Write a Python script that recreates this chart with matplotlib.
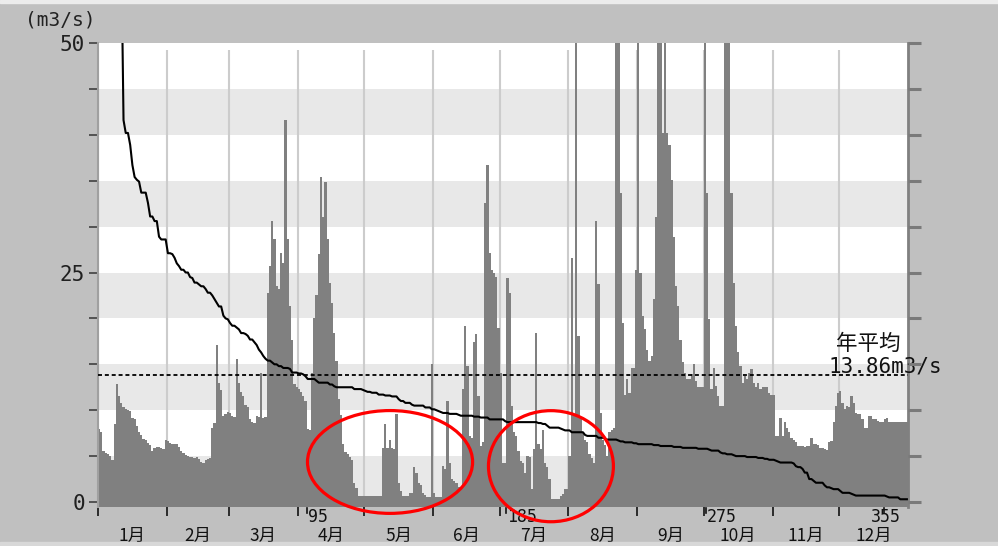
import numpy as np
import matplotlib.pyplot as plt
from matplotlib.patches import Ellipse, Rectangle
from matplotlib.ticker import MultipleLocator, FuncFormatter

plt.rcParams['font.family'] = ['Noto Sans CJK JP', 'DejaVu Sans']

# daily discharge (m3/s)
jan = [7.9, 7.6, 5.6, 5.3, 5.2, 5.0, 4.6, 8.5, 12.8, 11.5, 10.8, 10.3, 10.1, 10.0, 9.9, 9.2,
       9.0, 8.3, 7.6, 7.3, 6.9, 6.8, 6.4, 6.2, 5.6, 5.9, 6.0, 6.0, 5.9, 5.8, 6.8]
feb = [6.6, 6.4, 6.3, 6.3, 6.3, 6.0, 5.6, 5.3, 5.1, 5.0, 4.9, 4.9, 4.8, 4.9, 4.7, 4.4,
       4.2, 4.6, 4.7, 4.8, 8.1, 8.6, 17.1, 13.0, 12.2, 9.4, 9.6, 9.8]
mar = [9.7, 9.4, 9.3, 15.6, 13.0, 12.0, 11.5, 10.6, 10.3, 9.0, 8.7, 8.6, 9.4, 9.3, 14.1, 9.2,
       9.3, 22.8, 25.7, 30.6, 28.6, 23.5, 23.2, 27.1, 26.0, 41.6, 28.6, 21.3, 17.7, 12.8, 12.5]
apr = [12.3, 12.0, 11.5, 11.0, 8.0, 7.8, 14.0, 20.0, 22.5, 27.0, 35.4, 31.1, 34.9, 28.6, 23.9,
       21.7, 18.4, 15.4, 11.2, 9.5, 6.3, 5.4, 5.2, 4.9, 4.6, 2.1, 1.5, 0.7, 0.7, 0.7]
may = [0.7, 0.7, 0.7, 0.7, 0.7, 0.7, 0.7, 0.7, 5.9, 8.5, 5.9, 6.7, 5.9, 5.8, 9.6, 2.1,
       1.2, 0.7, 0.7, 0.7, 1.0, 1.0, 3.8, 3.2, 2.1, 1.8, 1.0, 0.8, 0.5, 0.5, 15.0]
jun = [1.0, 0.5, 0.5, 0.5, 3.9, 3.6, 11.0, 4.3, 2.5, 2.3, 2.1, 1.6, 1.6, 12.3, 19.2,
       14.8, 7.2, 7.0, 17.4, 18.3, 11.6, 6.1, 6.5, 32.6, 36.7, 27.1, 25.3, 25.0, 24.5, 19.0]
jul = [14.0, 4.3, 4.3, 24.4, 22.8, 10.5, 7.6, 7.2, 5.6, 4.5, 4.3, 3.2, 5.0, 4.9, 1.4, 5.8,
       18.4, 6.3, 5.8, 7.8, 4.3, 3.8, 2.5, 0.3, 0.3, 0.3, 0.3, 0.6, 0.9, 1.4, 1.4]
aug = [5.0, 26.6, 9.4, 60.0, 18.1, 9.0, 7.6, 6.8, 6.5, 5.2, 4.8, 4.3, 30.6, 23.7, 9.7, 6.8,
       6.2, 5.0, 7.6, 7.8, 8.1, 140.0, 90.0, 33.7, 19.5, 11.7, 13.4, 11.9, 14.6, 14.6, 25.3]
sep = [70.0, 25.0, 20.3, 18.8, 16.6, 15.4, 15.9, 22.1, 31.1, 150.0, 120.0, 40.2, 80.0, 40.2,
       38.9, 35.1, 28.9, 23.5, 21.3, 17.7, 15.2, 14.1, 13.4, 13.4, 13.9, 15.0, 13.2, 12.5, 12.5, 12.5]
oct_ = [110.0, 33.7, 19.9, 12.3, 14.6, 12.6, 11.6, 10.5, 10.5, 130.0, 200.0, 110.0, 33.7, 23.9,
        19.2, 16.3, 14.8, 13.0, 13.7, 13.4, 14.1, 14.5, 13.0, 12.5, 13.0, 12.3, 12.5, 12.5, 12.5,
        11.9, 11.7]
nov = [11.7, 7.2, 7.2, 9.2, 7.2, 8.7, 8.1, 7.6, 7.0, 6.8, 6.5, 6.1, 6.1, 6.1, 6.0, 6.1, 6.1,
       7.0, 6.3, 6.3, 6.2, 5.9, 5.9, 5.8, 5.7, 6.5, 6.6, 8.7, 10.5, 11.9]
dec = [12.1, 10.8, 10.1, 10.5, 10.3, 11.6, 10.8, 9.7, 9.6, 9.6, 9.0, 8.1, 8.1, 9.4, 9.4, 9.0,
       9.0, 8.8, 8.7, 8.7, 9.0, 9.2, 8.7, 8.7, 8.7, 8.7, 8.7, 8.7, 8.7, 8.7, 8.7]

daily_flow = np.array(jan + feb + mar + apr + may + jun + jul + aug + sep + oct_ + nov + dec)
annual_mean = 13.86
month_labels = [f"{m}月" for m in range(1, 13)]
month_days = [31, 28, 31, 30, 31, 30, 31, 31, 30, 31, 30, 31]
duration_marks = [95, 185, 275, 355]

# flow duration curve = daily values sorted high -> low
duration_curve = np.sort(daily_flow)[::-1]
day_edges = np.arange(len(daily_flow) + 1)
day_mid = day_edges[:-1] + 0.5
month_edges = np.cumsum([0] + month_days)
month_mid = (month_edges[:-1] + month_edges[1:]) / 2

y_bottom = -0.49

fig = plt.figure(figsize=(9.98, 5.46), dpi=100, facecolor='#c0c0c0')
# window-like frame strips
fig.patches.append(Rectangle((0, 1 - 3 / 546), 1, 3 / 546, transform=fig.transFigure,
                             color='#ececec', zorder=0))
fig.patches.append(Rectangle((0, 0), 1, 4 / 546, transform=fig.transFigure,
                             color='#d8d8d8', zorder=0))

ax = fig.add_axes([98 / 998, 39.5 / 546, 810 / 998, 463.5 / 546])
ax.set_facecolor('white')
ax.set_xlim(0, 365)
ax.set_ylim(y_bottom, 50)

# alternating horizontal bands
for lo in range(0, 50, 10):
    ax.axhspan(lo, lo + 5, color='#e8e8e8', lw=0, zorder=0)

# month grid lines
ax.vlines(month_edges[:-1], 0, 49.2, color='#cccccc', lw=1.5, zorder=1)

# daily discharge bars
ax.stairs(daily_flow, day_edges, baseline=y_bottom, fill=True, color='#808080', zorder=2)

# duration curve
ax.plot(day_mid, duration_curve, color='black', lw=1.5, zorder=4)

# annual mean
ax.axhline(annual_mean, color='black', lw=1.3, ls=(0, (2.2, 1.6)), zorder=5)
ax.text(347, 17.2, '年平均', fontsize=15.5, ha='center', va='center', color='#111111')
ax.text(329, 14.8, f'{annual_mean:.2f}m3/s', fontsize=15, family='DejaVu Sans Mono',
        ha='left', va='center', color='#111111')

# spines
for side in ['top', 'bottom']:
    ax.spines[side].set_visible(False)
ax.spines['left'].set_color('#a0a0a0')
ax.spines['left'].set_linewidth(1.5)
ax.spines['right'].set_color('#808080')
ax.spines['right'].set_linewidth(2)

# y ticks: every 5, labels at 0/25/50
ax.yaxis.set_major_locator(MultipleLocator(5))
ax.yaxis.set_major_formatter(FuncFormatter(lambda v, _: f"{v:.0f}" if v % 25 == 0 else ""))
ax.tick_params(axis='y', direction='out', length=6.5, width=1.2, color='#404040',
               labelsize=15, labelcolor='#202020', pad=3)
for lbl in ax.get_yticklabels():
    lbl.set_family('DejaVu Sans Mono')

ax2 = ax.twinx()
ax2.set_ylim(y_bottom, 50)
ax2.yaxis.set_major_locator(MultipleLocator(5))
ax2.set_yticklabels([])
ax2.tick_params(axis='y', direction='out', length=9.5, width=2.2, color='#7a7a7a')
for side in ['top', 'bottom', 'left', 'right']:
    ax2.spines[side].set_visible(False)

# x ticks at month boundaries, month names centred
ax.set_xticks(month_edges[:-1])
ax.set_xticklabels([])
ax.tick_params(axis='x', direction='out', length=6.5, width=1.2, color='#111111')
for x, lab in zip(month_mid, month_labels):
    ax.text(x, -0.063, lab, transform=ax.get_xaxis_transform(), fontsize=12.5,
            ha='center', va='center', color='#111111')

# duration day markers
for d in duration_marks:
    ax.plot([d - 1, d - 1], [-0.004, -0.014], transform=ax.get_xaxis_transform(),
            color='#111111', lw=1.2, clip_on=False)
    ha = 'center' if d == duration_marks[-1] else 'left'
    xpos = d if ha == 'center' else d - 0.5
    ax.text(xpos, -0.022, str(d), transform=ax.get_xaxis_transform(), fontsize=12,
            family='DejaVu Sans Mono', ha=ha, va='center', color='#111111')

fig.text(60 / 998, 1 - 20 / 546, '(m3/s)', fontsize=14, family='DejaVu Sans Mono',
         ha='center', va='center', color='#222222')

# red highlight ellipses
for cx, cy, w, h in [(131.6, 4.36, 74.4, 11.2), (204.1, 3.9, 56.3, 12.1)]:
    ax.add_patch(Ellipse((cx, cy), w, h, fill=False, edgecolor='#ff0000', lw=2.3,
                         clip_on=False, zorder=6))

fig.savefig('out.png', dpi=100, facecolor=fig.get_facecolor())
